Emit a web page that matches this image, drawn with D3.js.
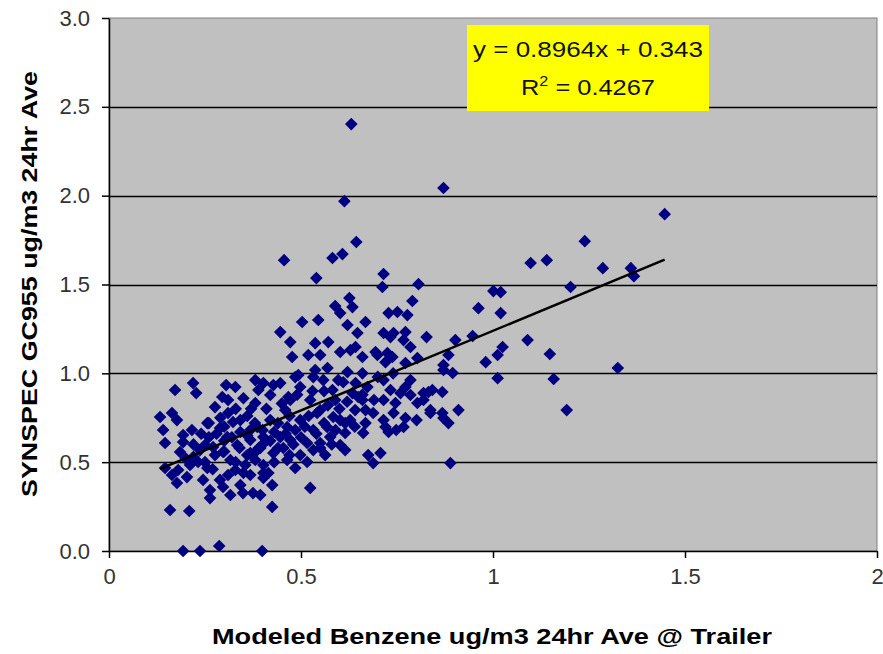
<!DOCTYPE html>
<html>
<head>
<meta charset="utf-8">
<script src="https://cdn.jsdelivr.net/npm/d3@7"></script>
<style>
  html, body { margin: 0; padding: 0; background: #ffffff; }
  svg { display: block; }
</style>
</head>
<body>
<svg id="chart" width="883" height="654"></svg>
<script>
// ---- Data ----
const xValues = [
  0.631,0.871,0.613,0.644,0.456,0.582,0.608,0.540,0.715,0.712,0.806,0.626,0.790,0.589,0.634,
  1.447,1.239,1.098,1.140,1.286,1.359,1.367,1.202,1.090,1.148,1.325,1.158,1.192,
  1.001,1.020,0.962,1.020,0.947,0.902,0.827,1.025,1.012,0.981,1.012,0.884,0.871,0.895,0.910,
  0.868,0.832,0.871,0.884,0.801,0.767,0.748,0.889,0.837,0.819,0.751,0.777,0.741,0.772,0.785,
  0.738,0.772,0.785,0.772,0.759,0.746,0.785,
  0.602,0.728,0.503,0.545,0.621,0.668,0.446,0.647,0.715,0.733,0.767,0.472,0.537,0.571,0.602,
  0.477,0.519,0.550,0.629,0.660,0.694,0.725,0.803,0.871,0.381,0.402,0.446,0.485,0.498,0.532,
  0.569,0.597,0.621,0.642,0.582,0.673,0.649,0.715,0.733,0.819,0.842,0.803,0.837,0.868,0.772,
  0.741,0.715,0.688,0.668,0.720,0.615,0.662,0.615,0.584,0.542,0.568,0.532,0.498,0.464,0.420,
  0.386,0.402,0.446,0.472,0.516,0.550,0.576,0.386,0.428,0.498,0.532,0.402,0.464,0.516,0.675,
  0.707,0.688,0.402,0.425,0.524,0.425,0.415,
  0.642,0.699,0.720,0.537,0.493,0.558,0.634,0.660,0.715,0.668,0.728,0.420,0.472,0.524,0.550,
  0.459,0.485,0.589,0.602,0.628,0.641,0.602,0.615,0.563,0.485,0.454,
  0.172,0.219,0.227,0.305,0.329,0.276,0.310,0.381,0.133,0.164,0.177,0.141,0.193,0.216,0.193,
  0.146,0.185,0.256,0.289,0.323,0.342,0.308,0.271,0.297,0.334,0.368,0.368,0.394,0.146,0.164,
  0.180,0.177,0.203,0.211,0.232,0.256,0.245,0.263,0.263,0.289,0.310,0.297,0.316,0.342,0.349,
  0.368,0.375,0.402,0.394,0.159,0.209,0.193,0.237,0.287,0.399,0.250,0.276,0.316,0.355,0.381,
  0.329,0.368,0.342,0.237,0.295,0.389,0.428,0.467,
  0.300,0.330,0.360,0.410,0.440,0.350,0.400,0.430,0.290,0.260,0.510,0.570,0.530,0.590,0.470,
  0.200,0.220,0.240,0.260,0.280,0.300,0.320,0.340,0.360,0.380,0.400,0.420,0.440,0.460,0.480,
  0.500,0.520,0.540,0.560,0.580,0.600,0.620,0.640,0.660,0.690,0.300,0.330,0.360,0.390,0.270,
  0.350,0.430,0.470,0.550,0.220,0.250,0.310,0.370,0.450,0.490,0.560,0.610,0.660,0.700,0.740
];
const yValues = [
  2.403,2.043,1.969,1.739,1.637,1.649,1.671,1.536,1.559,1.486,1.502,1.424,1.407,1.379,1.373,
  1.896,1.744,1.621,1.637,1.592,1.592,1.547,1.486,1.187,1.109,1.030,0.968,0.793,
  1.463,1.457,1.367,1.339,1.210,1.187,1.204,1.148,1.103,1.063,0.973,1.103,1.047,1.002,0.793,
  0.895,0.895,0.748,0.720,0.737,0.698,0.681,0.495,0.793,0.850,1.345,1.328,1.227,1.232,1.148,
  1.092,1.058,0.962,0.923,0.889,0.833,0.878,
  1.339,1.339,1.289,1.300,1.272,1.289,1.232,1.227,1.227,1.204,1.187,1.176,1.170,1.176,1.120,
  1.092,1.103,1.103,1.131,1.092,1.120,1.114,1.086,1.019,0.962,0.945,0.945,0.979,0.923,0.979,
  1.030,0.962,1.007,0.945,0.906,0.923,0.867,0.962,0.906,0.889,0.906,0.833,0.777,0.777,0.748,
  0.777,0.737,0.777,0.720,0.698,0.664,0.664,0.720,0.754,0.777,0.698,0.681,0.737,0.698,0.737,
  0.698,0.641,0.641,0.625,0.608,0.608,0.641,0.568,0.551,0.540,0.568,0.484,0.512,0.501,0.540,
  0.551,0.495,0.411,0.371,0.355,0.248,0.439,
  1.148,1.103,1.063,1.019,0.990,0.962,0.889,0.850,0.850,0.793,0.670,0.878,0.850,0.850,0.793,
  0.793,0.681,0.850,0.737,0.737,0.793,0.596,0.568,0.540,0.467,0.580,
  0.906,0.945,0.889,0.934,0.923,0.810,0.777,0.833,0.754,0.777,0.737,0.681,0.653,0.681,0.613,
  0.608,0.557,0.720,0.692,0.726,0.670,0.641,0.585,0.557,0.596,0.625,0.551,0.580,0.467,0.428,
  0.456,0.383,0.416,0.484,0.501,0.467,0.400,0.343,0.298,0.400,0.428,0.360,0.315,0.371,0.326,
  0.428,0.326,0.439,0.315,0.231,0.225,0.000,0.000,0.028,0.000,0.596,0.540,0.512,0.484,0.512,
  0.456,0.681,0.737,0.568,0.867,0.906,0.934,0.867,
  0.620,0.800,0.760,0.800,0.720,0.860,0.600,0.670,0.750,0.640,0.700,0.820,0.900,0.680,0.760,
  0.520,0.600,0.660,0.720,0.660,0.700,0.640,0.580,0.650,0.720,0.680,0.620,0.580,0.660,0.600,
  0.640,0.760,0.660,0.720,0.600,0.800,0.840,0.700,0.880,0.850,0.560,0.500,0.540,0.580,0.460,
  0.440,0.500,0.540,0.580,0.530,0.500,0.850,0.800,0.830,0.880,0.900,0.950,1.000,0.980,1.000
];
const xTickValues = [0, 0.5, 1, 1.5, 2];
const xTickLabels = ["0", "0.5", "1", "1.5", "2"];
const yTickValues = [0, 0.5, 1.0, 1.5, 2.0, 2.5, 3.0];
const yTickLabels = ["0.0", "0.5", "1.0", "1.5", "2.0", "2.5", "3.0"];
const trendSlope = 0.8964;
const trendIntercept = 0.343;
const equationText = "y = 0.8964x + 0.343";
const r2Value = "0.4267";
const xTitle = "Modeled Benzene ug/m3 24hr Ave @ Trailer";
const yTitle = "SYNSPEC GC955 ug/m3  24hr Ave";

// ---- Layout ----
const svg = d3.select("#chart");
const plot = { left: 109, right: 877, top: 18, bottom: 551 };
const x = d3.scaleLinear().domain([0, 2]).range([plot.left, plot.right]);
const y = d3.scaleLinear().domain([0, 3]).range([plot.bottom, plot.top]);
const fontFam = "Arial, 'Liberation Sans', Helvetica, sans-serif";

// plot area
svg.append("rect")
  .attr("x", plot.left).attr("y", plot.top)
  .attr("width", plot.right - plot.left).attr("height", plot.bottom - plot.top)
  .attr("fill", "#c0c0c0").attr("stroke", "#808080").attr("stroke-width", 1);

// gridlines
svg.append("g").selectAll("line")
  .data(yTickValues.filter(v => v > 0 && v < 3))
  .join("line")
  .attr("x1", plot.left).attr("x2", plot.right)
  .attr("y1", d => Math.round(y(d)) + 0.5).attr("y2", d => Math.round(y(d)) + 0.5)
  .attr("stroke", "#000").attr("stroke-width", 1.5);

// axes
const xAxis = d3.axisBottom(x).tickValues(xTickValues)
  .tickFormat((d, i) => xTickLabels[i]).tickSizeInner(7).tickSizeOuter(0).tickPadding(10);
const gx = svg.append("g").attr("transform", `translate(0,${plot.bottom})`).call(xAxis);
gx.select(".domain").attr("stroke", "#000").attr("stroke-width", 1.5);
gx.selectAll(".tick line").attr("stroke", "#000").attr("stroke-width", 1.5);
gx.selectAll(".tick text").attr("font-family", fontFam).attr("font-size", 22)
  .attr("fill", "#333");

const yAxis = d3.axisLeft(y).tickValues(yTickValues)
  .tickFormat((d, i) => yTickLabels[i]).tickSizeInner(7).tickSizeOuter(0).tickPadding(12);
const gy = svg.append("g").attr("transform", `translate(${plot.left},0)`).call(yAxis);
gy.select(".domain").attr("stroke", "#000").attr("stroke-width", 1.5);
gy.selectAll(".tick line").attr("stroke", "#000").attr("stroke-width", 1.5);
gy.selectAll(".tick text").attr("font-family", fontFam).attr("font-size", 22)
  .attr("fill", "#333");

// points
const pts = xValues.map((v, i) => ({ x: v, y: yValues[i] }));
const diamond = d3.symbol().type(d3.symbolSquare).size(80);
svg.append("g").selectAll("path")
  .data(pts)
  .join("path")
  .attr("d", diamond)
  .attr("transform", d => `translate(${x(d.x)},${y(d.y)}) rotate(45)`)
  .attr("fill", "#000080");

// trend line
const xr = d3.extent(xValues);
svg.append("line")
  .attr("x1", x(xr[0])).attr("y1", y(trendSlope * xr[0] + trendIntercept))
  .attr("x2", x(xr[1])).attr("y2", y(trendSlope * xr[1] + trendIntercept))
  .attr("stroke", "#000").attr("stroke-width", 2.5);

// equation box
svg.append("rect")
  .attr("x", 467).attr("y", 25).attr("width", 242).attr("height", 86)
  .attr("fill", "#ffff00");
svg.append("text")
  .attr("x", 588).attr("y", 57).attr("text-anchor", "middle")
  .attr("font-family", fontFam).attr("font-size", 22).attr("fill", "#111")
  .attr("textLength", 230).attr("lengthAdjust", "spacingAndGlyphs")
  .text(equationText);
const r2 = svg.append("text")
  .attr("x", 588).attr("y", 95).attr("text-anchor", "middle")
  .attr("font-family", fontFam).attr("font-size", 22).attr("fill", "#111")
  .attr("textLength", 134).attr("lengthAdjust", "spacingAndGlyphs");
r2.append("tspan").text("R");
r2.append("tspan").attr("dy", -9).attr("font-size", 14).text("2");
r2.append("tspan").attr("dy", 9).text(" = " + r2Value);

// axis titles
svg.append("text")
  .attr("x", 492).attr("y", 644).attr("text-anchor", "middle")
  .attr("font-family", fontFam).attr("font-weight", "bold").attr("font-size", 22)
  .attr("fill", "#000")
  .attr("textLength", 560).attr("lengthAdjust", "spacingAndGlyphs")
  .text(xTitle);
svg.append("text")
  .attr("transform", "translate(37,284) rotate(-90)")
  .attr("text-anchor", "middle")
  .attr("font-family", fontFam).attr("font-weight", "bold").attr("font-size", 22)
  .attr("fill", "#000")
  .attr("textLength", 426).attr("lengthAdjust", "spacingAndGlyphs")
  .text(yTitle);
</script>
</body>
</html>
